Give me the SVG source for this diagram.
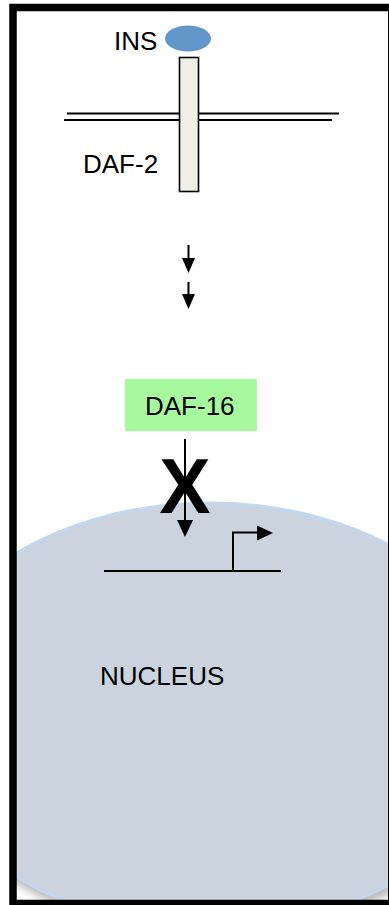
<svg xmlns="http://www.w3.org/2000/svg" width="389" height="905" viewBox="0 0 389 905">
  <style>
    .lbl { font-family: "Liberation Sans", Arial, sans-serif; font-size: 26px; fill: #000; }
    .ln { stroke: #000; stroke-width: 2; fill: none; }
    .head { fill: #000; stroke: none; }
  </style>
  <defs>
    <clipPath id="frameClip">
      <rect x="13" y="7.5" width="400" height="896"/>
    </clipPath>
    <filter id="blur" x="-20%" y="-20%" width="140%" height="140%">
      <feGaussianBlur stdDeviation="4"/>
    </filter>
  </defs>
  <rect x="0" y="0" width="389" height="905" fill="#fff"/>

  <g id="nucleus" clip-path="url(#frameClip)">
    <ellipse cx="212" cy="723" rx="300" ry="212" fill="#8a8a8a" opacity="0.6" filter="url(#blur)"/>
    <ellipse cx="210" cy="715" rx="300" ry="212" fill="#cbd3df" stroke="#c3d7ee" stroke-width="3"/>
    <text class="lbl" x="100" y="685">NUCLEUS</text>
  </g>

  <g id="frame">
    <rect x="13" y="7.5" width="378.75" height="896" fill="none" stroke="#000" stroke-width="7.5"/>
  </g>

  <g id="membrane">
    <line x1="67" y1="113.5" x2="339" y2="113.5" stroke="#000" stroke-width="1.8"/>
    <line x1="64" y1="120" x2="332" y2="120" stroke="#000" stroke-width="1.8"/>
  </g>

  <g id="DAF-2">
    <rect x="179.5" y="57.5" width="19" height="134" fill="#efefe8" stroke="#000" stroke-width="1.6"/>
    <text class="lbl" x="83" y="173">DAF-2</text>
  </g>

  <g id="INS">
    <ellipse cx="188" cy="38.5" rx="23" ry="13" fill="#6396ca"/>
    <text class="lbl" x="114" y="50">INS</text>
  </g>

  <g id="DAF-16">
    <rect x="125" y="379" width="132" height="52" fill="#a7f99d"/>
    <text class="lbl" x="145" y="415">DAF-16</text>
  </g>

  <g id="block">
    <text x="185" y="513" text-anchor="middle" style="font-family: 'Liberation Sans', Arial, sans-serif; font-weight: bold; font-size: 77px;" fill="#000">X</text>
  </g>

  <g id="gene">
    <line class="ln" x1="104" y1="571" x2="281" y2="571"/>
    <polyline class="ln" points="233,571 233,532.5 258,532.5"/>
    <polygon class="head" points="257,525.5 273,533 257,540.5"/>
  </g>

  <g id="connectors">
    <line class="ln" x1="188.5" y1="245" x2="188.5" y2="259"/>
    <polygon class="head" points="182,258 195,258 188.5,273"/>
    <line class="ln" x1="188.5" y1="282" x2="188.5" y2="295"/>
    <polygon class="head" points="182,294 195,294 188.5,309"/>
    <line class="ln" x1="185" y1="439" x2="185" y2="521"/>
    <polygon class="head" points="177,520 193,520 185,537"/>
  </g>
</svg>
